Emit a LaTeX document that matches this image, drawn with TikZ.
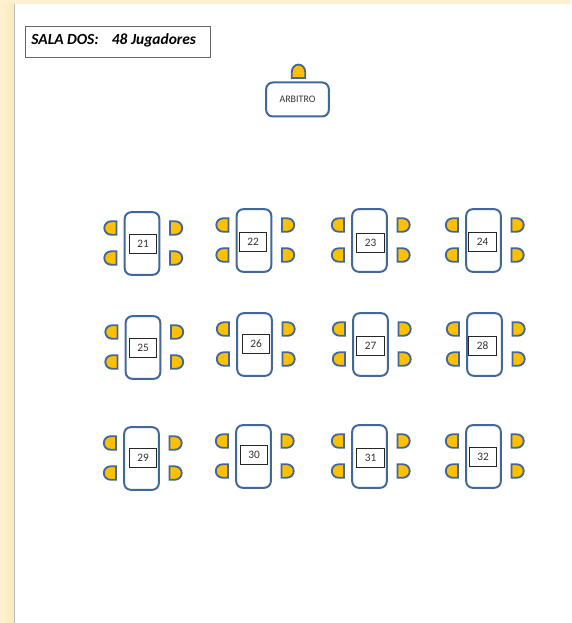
\documentclass[tikz,border=0pt]{standalone}
\usepackage{fontspec}
\setmainfont{Carlito}
\definecolor{paper}{HTML}{FDF1D0}
\definecolor{paperdark}{HTML}{FBE9BC}
\definecolor{edge}{HTML}{B4BAB8}
\definecolor{azul}{HTML}{42689A}
\definecolor{oro}{HTML}{FFC000}
\tikzset{
  mesa/.style={draw=azul, line width=1.5pt, fill=white, rounded corners=5pt, inner sep=0pt},
  numero/.style={draw=black!85, line width=0.7pt, fill=white, minimum width=20.5pt, minimum height=14.5pt, inner sep=0pt, text=black!80, font=\fontsize{8.5}{10}\selectfont},
  titulo/.style={draw=black!60, line width=0.9pt, fill=white, minimum width=139pt, minimum height=23pt, inner sep=0pt},
  silla/.pic={
    \draw[azul, fill=oro, line width=1.4pt]
    (0,-6.7) -- (0,6.7) -- (-5.5,6.7) arc[start angle=90, end angle=270, radius=6.7] -- cycle;
  }
}

\begin{document}
\begin{tikzpicture}[x=0.75pt, y=-0.75pt]

% page
\useasboundingbox (0,0) rectangle (571,623);
\fill[paper] (0,0) rectangle (571,623);
\shade[left color=paper, right color=paperdark] (2,4) rectangle (13,623);
\fill[white] (14,4) rectangle (571,623);
\draw[edge, line width=0.6pt] (14,4) -- (14,623);

% room title
\node[titulo, anchor=north west] (sala) at (24.8,26) {};
\node[anchor=west, inner sep=0pt, font=\fontsize{11.6}{14}\selectfont\bfseries\itshape] (salatxt) at (31,40)
{SALA DOS:\hspace{0.85em}48 Jugadores};

% referee
\node[mesa, minimum width=47pt, minimum height=25.5pt, text=black!80, font=\fontsize{7.5}{9}\selectfont] (arbitro) at (297.5,99.5)
{ARBITRO};
\pic[rotate=-90, xscale=1.1] at (298.5,78) {silla};

% tables
\foreach \n/\x/\y/\a/\b in {21/142/243.5/143/244, 22/254/240.5/253/242, 23/369.5/240.5/370.5/243, 24/483.5/240.5/482.5/242,
                            25/143/347.5/143/348, 26/254.5/344.5/256/344, 27/370.5/344.5/370.5/346, 28/484.5/344.5/482.5/346,
                            29/141.5/458.5/143/458, 30/253.5/456.5/254/455, 31/369.5/456.5/370.5/458, 32/483.5/456.5/483/457} {
    \node[mesa, minimum width=26pt, minimum height=47pt] (mesa\n) at (\x,\y) {};
    \node[numero] (num\n) at (\a,\b) {\n};
    % chairs
    \pic at (\x-25.5,\y-15.5) {silla};
    \pic at (\x-25.5,\y+14.5) {silla};
    \pic[rotate=180] at (\x+28,\y-15.5) {silla};
    \pic[rotate=180] at (\x+28,\y+14.5) {silla};
}

\end{tikzpicture}
\end{document}
